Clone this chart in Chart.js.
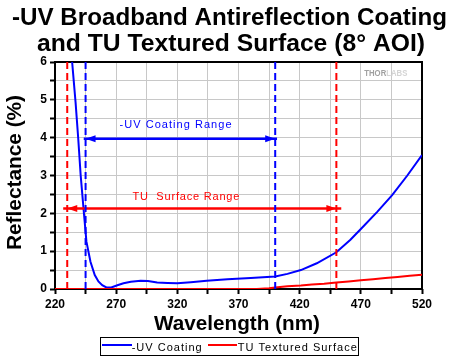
<!DOCTYPE html>
<html>
<head>
<meta charset="utf-8">
<script src="https://cdn.jsdelivr.net/npm/chart.js@4"></script>
<style>
html,body{margin:0;padding:0;background:#fff;}
canvas{display:block;}
</style>
</head>
<body>
<canvas id="c" width="450" height="356"></canvas>
<script>
// ---- data ----
const uvWavelength = [232, 234, 236.8, 239, 241, 243.3, 245.7, 249, 252.5, 255.5, 258.6, 262, 266, 271, 276, 282, 290, 296, 303.5, 312, 320, 331, 344, 361, 380, 400, 410, 421, 434, 450, 461.5, 471, 483.4, 495.6, 508, 520];
const uvReflectance = [6.6, 6.0, 4.94, 3.97, 3.0, 2.13, 1.25, 0.72, 0.37, 0.2, 0.1, 0.04, 0.04, 0.1, 0.15, 0.19, 0.22, 0.21, 0.17, 0.16, 0.15, 0.18, 0.22, 0.26, 0.29, 0.33, 0.4, 0.5, 0.68, 0.97, 1.3, 1.62, 2.04, 2.48, 3.0, 3.54];
const tuWavelength = [220, 385, 395, 400, 410, 421, 430, 440, 450, 460, 470, 480, 490, 500, 510, 520];
const tuReflectance = [0, 0, 0.02, 0.04, 0.07, 0.09, 0.12, 0.14, 0.17, 0.2, 0.23, 0.26, 0.29, 0.32, 0.35, 0.38];
const uvRange = [245, 400];
const tuRange = [230, 450];
const uvArrowLevel = 3.97;
const tuArrowLevel = 2.13;
const xTickLabels = [220, 270, 320, 370, 420, 470, 520];
const yTickLabels = [0, 1, 2, 3, 4, 5, 6];
const seriesNames = ['-UV Coating', 'TU Textured Surface'];
const titleLines = ['-UV Broadband Antireflection Coating', 'and TU Textured Surface (8\u00B0 AOI)'];

const BLUE = '#0000ff', RED = '#ff0000';
const FONT = '"Liberation Sans", Arial, sans-serif';

function pts(xs, ys){ return xs.map((x,i)=>({x:x, y:ys[i]})); }
function vline(x){ return [{x:x,y:0},{x:x,y:6}]; }

function drawText(ctx, text, cx, y, font, color, width, opts){
  opts = opts || {};
  ctx.save();
  ctx.font = font;
  ctx.fillStyle = color;
  ctx.textBaseline = 'alphabetic';
  ctx.textAlign = 'left';
  ctx.translate(cx, y);
  let w = ctx.measureText(text).width;
  if (opts.spacing && ('letterSpacing' in ctx)) {
    const extra = (width - w) / Math.max(1, text.length - 1);
    ctx.letterSpacing = extra.toFixed(2) + 'px';
    ctx.fillText(text, -width/2, 0);
  } else {
    ctx.scale(width / w, 1);
    ctx.fillText(text, -w/2, 0);
  }
  ctx.restore();
}

function arrowHead(ctx, xTip, y, dir, color){
  ctx.save();
  ctx.fillStyle = color;
  ctx.beginPath();
  ctx.moveTo(xTip, y);
  ctx.lineTo(xTip - dir*10, y - 3.5);
  ctx.lineTo(xTip - dir*10, y + 3.5);
  ctx.closePath();
  ctx.fill();
  ctx.restore();
}

const decor = {
  id: 'decor',
  beforeDatasetsDraw(chart){
    const {ctx, chartArea:a} = chart;
    ctx.save();
    ctx.strokeStyle = '#000';
    ctx.lineWidth = 2;
    ctx.strokeRect(a.left, a.top, a.right - a.left, a.bottom - a.top);
    ctx.restore();
  },
  afterDatasetsDraw(chart){
    const {ctx} = chart;
    const xs = chart.scales.x, ys = chart.scales.y;
    // arrow heads
    const yb = ys.getPixelForValue(uvArrowLevel);
    arrowHead(ctx, xs.getPixelForValue(uvRange[0]), yb, -1, BLUE);
    arrowHead(ctx, xs.getPixelForValue(uvRange[1]), yb, 1, BLUE);
    const yr = ys.getPixelForValue(tuArrowLevel);
    arrowHead(ctx, xs.getPixelForValue(tuRange[0]), yr, -1, RED);
    arrowHead(ctx, xs.getPixelForValue(tuRange[1]), yr, 1, RED);
    // range labels
    drawText(ctx, '-UV Coating Range', xs.getPixelForValue(318.5), ys.getPixelForValue(4.245), '11px ' + FONT, BLUE, 112, {spacing:true});
    drawText(ctx, 'TU  Surface Range', xs.getPixelForValue(327), ys.getPixelForValue(2.35), '11px ' + FONT, RED, 107, {spacing:true});
    // watermark
    ctx.save();
    ctx.font = 'bold 9px ' + FONT;
    ctx.textBaseline = 'alphabetic';
    const w1 = ctx.measureText('THOR').width, w2 = ctx.measureText('LABS').width;
    const sc = 43 / (w1 + w2);
    ctx.translate(364.3, 75.7);
    ctx.scale(sc, 1);
    ctx.fillStyle = '#a0a0a0';
    ctx.fillText('THOR', 0, 0);
    ctx.fillStyle = '#d4d4d4';
    ctx.fillText('LABS', w1, 0);
    ctx.restore();
    // titles
    drawText(ctx, titleLines[0], 229.5, 24.5, 'bold 24px ' + FONT, '#000', 435);
    drawText(ctx, titleLines[1], 231, 51, 'bold 24px ' + FONT, '#000', 388);
    ctx.save();
    ctx.translate(20.7, 172.5);
    ctx.rotate(-Math.PI/2);
    drawText(ctx, 'Reflectance (%)', 0, 0, 'bold 20px ' + FONT, '#000', 155);
    ctx.restore();
    drawText(ctx, 'Wavelength (nm)', 237, 330, 'bold 21px ' + FONT, '#000', 166);
    // legend
    ctx.save();
    ctx.strokeStyle = '#000';
    ctx.lineWidth = 1;
    ctx.strokeRect(100.5, 337.5, 258, 18);
    ctx.lineWidth = 2;
    ctx.strokeStyle = BLUE;
    ctx.beginPath(); ctx.moveTo(102, 345); ctx.lineTo(132, 345); ctx.stroke();
    ctx.strokeStyle = RED;
    ctx.beginPath(); ctx.moveTo(208, 345); ctx.lineTo(237, 345); ctx.stroke();
    ctx.restore();
    drawText(ctx, seriesNames[0], 166.7, 350.7, '11px ' + FONT, '#000', 70, {spacing:true});
    drawText(ctx, seriesNames[1], 297.3, 350.7, '11px ' + FONT, '#000', 119, {spacing:true});
  }
};

const lineDs = (data, color, extra) => Object.assign({
  data: data, borderColor: color, backgroundColor: color, borderWidth: 2,
  pointRadius: 0, tension: 0, fill: false
}, extra || {});

new Chart(document.getElementById('c'), {
  type: 'line',
  data: {
    datasets: [
      lineDs(vline(tuRange[0]), RED, {borderDash:[7,4]}),
      lineDs(vline(tuRange[1]), RED, {borderDash:[7,4]}),
      lineDs(vline(uvRange[0]), BLUE, {borderDash:[7,4]}),
      lineDs(vline(uvRange[1]), BLUE, {borderDash:[7,4]}),
      lineDs([{x:uvRange[0]-1.5,y:uvArrowLevel},{x:uvRange[1]+1.5,y:uvArrowLevel}], BLUE, {borderWidth:2.5}),
      lineDs([{x:tuRange[0]-3.3,y:tuArrowLevel},{x:tuRange[1]+4,y:tuArrowLevel}], RED, {borderWidth:2.5}),
      lineDs(pts(tuWavelength, tuReflectance), RED, {label: seriesNames[1]}),
      lineDs(pts(uvWavelength, uvReflectance), BLUE, {label: seriesNames[0]})
    ]
  },
  options: {
    responsive: false,
    animation: false,
    devicePixelRatio: 1,
    layout: { padding: { top: 62, right: 28, left: 0, bottom: 0 } },
    plugins: { legend: { display: false }, title: { display: false }, tooltip: { enabled: false } },
    scales: {
      x: {
        type: 'linear', min: 220, max: 520,
        afterFit(s){ s.height = 67; },
        border: { display: false },
        grid: { color: '#c8c8c8', lineWidth: 1, tickColor: '#000', tickLength: 5, tickWidth: 2 },
        ticks: {
          stepSize: 25, autoSkip: false, maxRotation: 0, color: '#000', padding: 3,
          font: { family: FONT, size: 12, weight: 'bold' },
          callback: v => xTickLabels.includes(v) ? String(v) : ''
        }
      },
      y: {
        min: 0, max: 6,
        afterFit(s){ s.width = 55; },
        border: { display: false },
        grid: { color: '#c8c8c8', lineWidth: 1, tickColor: '#000', tickLength: 5, tickWidth: 2 },
        ticks: {
          stepSize: 0.5, autoSkip: false, color: '#000', padding: 3,
          font: { family: FONT, size: 12, weight: 'bold' },
          callback: v => yTickLabels.includes(v) ? String(v) : ''
        }
      }
    }
  },
  plugins: [decor]
});
</script>
</body>
</html>
